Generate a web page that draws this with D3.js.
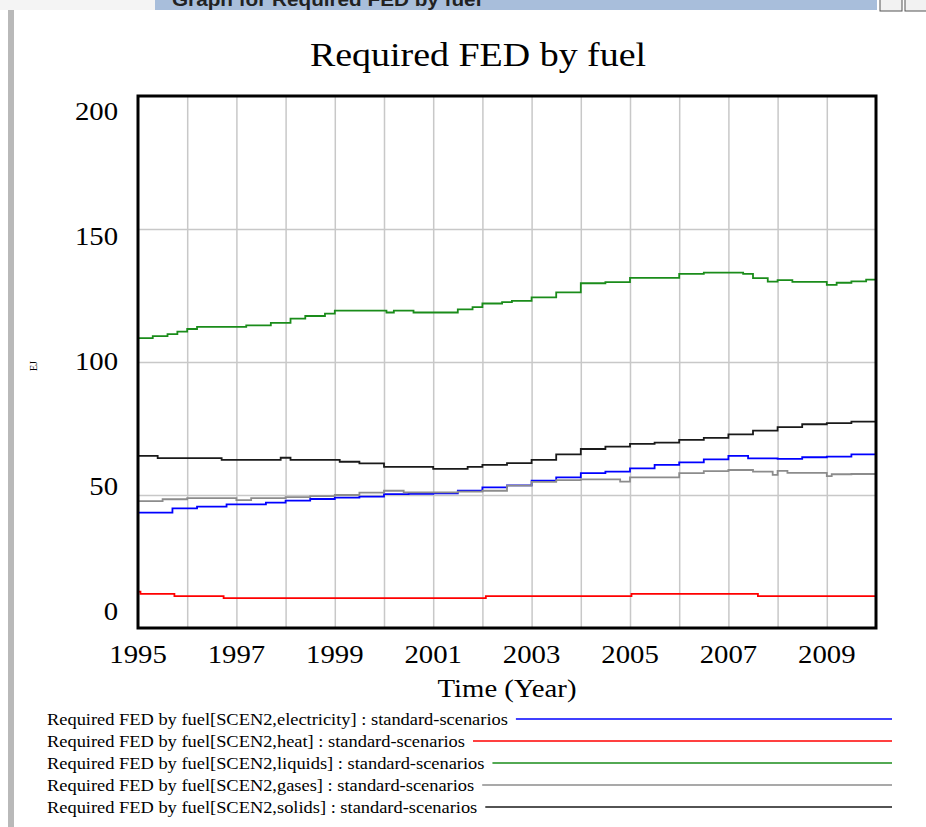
<!DOCTYPE html>
<html>
<head>
<meta charset="utf-8">
<script src="https://cdn.jsdelivr.net/npm/d3@7/dist/d3.min.js"></script>
<style>
  body { margin: 0; background: #fff; }
  svg { display: block; }
</style>
</head>
<body>
<script>
// series, [time, EJ]
const electricity = [[1995,43.4],[1995.7,45.0],[1996.2,45.6],[1996.8,46.5],[1997.6,47.1],[1998,47.9],[1998.5,48.5],[1999,49.0],[1999.5,49.4],[2000,50.3],[2000.5,50.4],[2001,50.6],[2001.5,51.6],[2002,52.9],[2002.5,53.6],[2003,55.4],[2003.5,56.6],[2004,58.2],[2004.5,58.8],[2005,60.0],[2005.5,61.3],[2006,62.3],[2006.5,63.4],[2007,64.7],[2007.4,63.8],[2008,63.6],[2008.5,64.2],[2009,64.4],[2009.5,65.3],[2010,66.0]];
const heat = [[1995,13.7],[1995.05,12.8],[1995.74,12.0],[1996.74,11.2],[2002.07,12.0],[2005.03,12.8],[2007.6,12.0],[2010,12.0]];
const liquids = [[1995,109.0],[1995.3,109.7],[1995.6,110.5],[1995.8,111.4],[1996,112.4],[1996.2,113.2],[1997.2,113.8],[1997.7,114.7],[1998.1,116.3],[1998.4,117.3],[1998.8,118.2],[1999,119.3],[2000.05,118.6],[2000.2,119.3],[2000.6,118.6],[2001.5,119.8],[2001.8,120.6],[2002,122.0],[2002.4,122.5],[2002.6,123.0],[2003,124.3],[2003.5,126.2],[2004,129.6],[2004.5,130.0],[2005,131.6],[2006,133.1],[2006.5,133.6],[2007.3,133.1],[2007.5,131.5],[2007.8,130.2],[2008,130.8],[2008.3,130.1],[2009,129.0],[2009.2,129.8],[2009.5,130.3],[2009.8,131.0],[2010,131.5]];
const gases = [[1995,47.7],[1995.5,48.4],[1996,48.8],[1997,48.1],[1997.3,48.8],[1998,49.2],[1998.5,49.6],[1999,50.0],[1999.5,50.9],[2000,51.6],[2000.4,51.0],[2001.5,51.3],[2002,51.6],[2002.5,53.5],[2003,54.9],[2003.5,55.6],[2004,55.9],[2004.8,55.0],[2005,56.6],[2006,58.2],[2006.5,59.0],[2007,59.4],[2007.5,58.8],[2007.9,57.6],[2008,59.1],[2008.2,58.3],[2009,57.1],[2009.1,57.8],[2009.5,57.9],[2010,58.8]];
const solids = [[1995,64.7],[1995.4,63.9],[1996.7,63.2],[1997.9,64.0],[1998.1,63.2],[1999.1,62.5],[1999.5,61.9],[2000,60.6],[2001,59.8],[2001.7,60.6],[2002,61.3],[2002.5,62.0],[2003,63.2],[2003.5,65.3],[2004,67.3],[2004.5,68.2],[2005,69.2],[2005.5,69.7],[2006,70.7],[2006.5,71.5],[2007,72.8],[2007.5,74.2],[2008,75.5],[2008.5,76.6],[2009,77.0],[2009.5,77.6],[2010,78.2]];

const seriesNames = ["electricity", "heat", "liquids", "gases", "solids"];
const seriesColors = ["#0000ff", "#ff0000", "#1a8c1a", "#8c8c8c", "#1a1a1a"];
const seriesData = [electricity, heat, liquids, gases, solids];

const yTicks = [0, 50, 100, 150, 200];
const xTicks = [1995, 1997, 1999, 2001, 2003, 2005, 2007, 2009];

const w = 926, h = 827;
const pLeft = 138, pRight = 876, pTop = 96, pBottom = 628;
const serif = "'Liberation Serif', 'Times New Roman', serif";
const stretch = 1.15; // the Vensim text renders wider than Liberation Serif

// widen a text selection horizontally
function widen(sel) {
    sel.each(function () {
        const len = this.getComputedTextLength();
        d3.select(this)
            .attr("textLength", len * stretch)
            .attr("lengthAdjust", "spacingAndGlyphs");
    });
}

const svg = d3.select("body").append("svg")
    .attr("width", w)
    .attr("height", h);

svg.append("rect").attr("width", w).attr("height", h).attr("fill", "#fff");

// window chrome bits
svg.append("rect").attr("x", 8).attr("y", 0).attr("width", 6).attr("height", h).attr("fill", "#b9b9b9");
svg.append("rect").attr("x", 155).attr("y", 0).attr("width", 722).attr("height", 10).attr("fill", "#a8bedb");
svg.append("text")
    .attr("x", 172).attr("y", 6)
    .attr("font-family", "'Liberation Sans', Arial, sans-serif")
    .attr("font-weight", "bold")
    .attr("font-size", 18)
    .attr("fill", "#222")
    .text("Graph for Required FED by fuel")
    .call(widen);
svg.append("rect").attr("x", 0).attr("y", 0).attr("width", 155).attr("height", 10).attr("fill", "#f4f4f4");
svg.append("rect").attr("x", 880).attr("y", -2).attr("width", 22).attr("height", 13).attr("fill", "#f2f2f2").attr("stroke", "#555");
svg.append("rect").attr("x", 905).attr("y", -2).attr("width", 22).attr("height", 13).attr("fill", "#f2f2f2").attr("stroke", "#555");

const x = d3.scaleLinear().domain([1995, 2010]).range([pLeft, pRight]);
const y = d3.scaleLinear().domain([0, 200]).range([pBottom, pTop]);
// Vensim draws the value labels on a slightly inset range
const yLab = d3.scaleLinear().domain([0, 200]).range([pBottom - 17, pTop + 15]);

// grid
svg.append("g")
    .attr("transform", "translate(0," + pBottom + ")")
    .call(d3.axisBottom(x).tickValues(d3.range(1996, 2010)).tickSize(-(pBottom - pTop)).tickFormat(""))
    .call(g => g.select(".domain").remove())
    .call(g => g.selectAll("line").attr("stroke", "#c8c8c8").attr("stroke-width", 1.5));

svg.append("g")
    .attr("transform", "translate(" + pLeft + ",0)")
    .call(d3.axisLeft(y).tickValues([50, 100, 150]).tickSize(-(pRight - pLeft)).tickFormat(""))
    .call(g => g.select(".domain").remove())
    .call(g => g.selectAll("line").attr("stroke", "#c8c8c8").attr("stroke-width", 1.5));

// lines
const line = d3.line()
    .x(d => x(d[0]))
    .y(d => y(d[1]))
    .curve(d3.curveStepAfter);

svg.selectAll("path.series")
    .data(seriesData)
    .enter()
    .append("path")
    .attr("class", "series")
    .attr("d", line)
    .attr("fill", "none")
    .attr("stroke", (d, i) => seriesColors[i])
    .attr("stroke-width", 1.8);

// frame
svg.append("rect")
    .attr("x", pLeft).attr("y", pTop)
    .attr("width", pRight - pLeft).attr("height", pBottom - pTop)
    .attr("fill", "none")
    .attr("stroke", "#000")
    .attr("stroke-width", 3);

// y labels
svg.selectAll("text.ylab")
    .data(yTicks)
    .enter()
    .append("text")
    .attr("class", "ylab")
    .attr("x", 118)
    .attr("y", d => yLab(d))
    .attr("text-anchor", "end")
    .attr("dominant-baseline", "central")
    .attr("font-family", serif)
    .attr("font-size", 25)
    .text(d => d)
    .call(widen);

// x labels
svg.selectAll("text.xlab")
    .data(xTicks)
    .enter()
    .append("text")
    .attr("class", "xlab")
    .attr("x", d => x(d))
    .attr("y", 654)
    .attr("text-anchor", "middle")
    .attr("dominant-baseline", "central")
    .attr("font-family", serif)
    .attr("font-size", 25)
    .text(d => d)
    .call(widen);

svg.append("text")
    .attr("x", 507).attr("y", 688)
    .attr("text-anchor", "middle")
    .attr("dominant-baseline", "central")
    .attr("font-family", serif)
    .attr("font-size", 25)
    .text("Time (Year)")
    .call(widen);

svg.append("text")
    .attr("text-anchor", "middle")
    .attr("transform", "translate(37,366)rotate(-90)")
    .attr("font-family", serif)
    .attr("font-size", 10)
    .text("EJ");

// title
svg.append("text")
    .attr("x", 478).attr("y", 55)
    .attr("text-anchor", "middle")
    .attr("dominant-baseline", "central")
    .attr("font-family", serif)
    .attr("font-size", 33)
    .text("Required FED by fuel")
    .call(widen);

// legend
const legend = svg.selectAll("g.legend")
    .data(seriesNames)
    .enter()
    .append("g")
    .attr("class", "legend")
    .attr("transform", (d, i) => "translate(47," + (719 + i * 22) + ")");

legend.append("text")
    .attr("dominant-baseline", "central")
    .attr("font-family", serif)
    .attr("font-size", 16)
    .text(d => "Required FED by fuel[SCEN2," + d + "] : standard-scenarios")
    .call(widen);

legend.each(function (d, i) {
    const g = d3.select(this);
    const tw = +g.select("text").attr("textLength");
    g.append("line")
        .attr("x1", tw + 8).attr("x2", 892 - 47)
        .attr("y1", 0).attr("y2", 0)
        .attr("stroke", seriesColors[i])
        .attr("stroke-width", 1.5);
});
</script>
</body>
</html>
